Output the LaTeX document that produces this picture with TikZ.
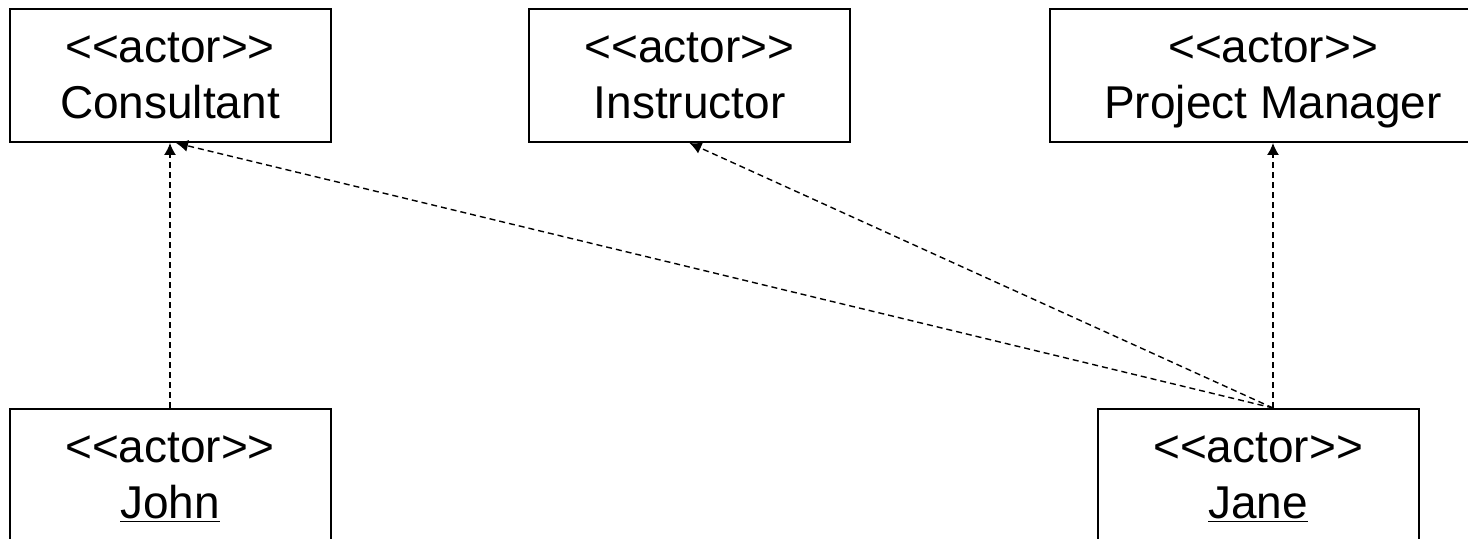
\documentclass[tikz,border=0pt]{standalone}
\usepackage{fontspec}
\setmainfont{Liberation Sans}
\usetikzlibrary{arrows.meta}

\begin{document}
\begin{tikzpicture}[line width=1pt,
		actor/.style={draw, align=center, minimum width=160.5pt, minimum height=66.5pt, text depth=-5pt, font=\fontsize{23}{28}\selectfont},
		dep/.style={line width=0.7pt, dash pattern=on 3pt off 2pt, -{Latex[length=6pt,width=6pt]}}]
	\useasboundingbox (0,0) rectangle (734pt,-269.5pt);

	\node[actor] (cons) at (85pt,-37.75pt) {<{}<actor>{}>\\Consultant};
	\node[actor] (instr) at (344.75pt,-37.75pt) {<{}<actor>{}>\\Instructor};
	\node[actor, minimum width=223pt] (pm) at (636.5pt,-37.75pt) {<{}<actor>{}>\\Project Manager};

	\node[actor] (john) at (85pt,-237.75pt) {<{}<actor>{}>\\\underline{John}};
	\node[actor] (jane) at (629pt,-237.75pt) {<{}<actor>{}>\\\underline{Jane}};

	\coordinate (janetop) at (pm.south |- jane.north);

	\draw[dep] (john.north) -- (cons.south);
	\draw[dep] (janetop) -- ([xshift=3pt]cons.south);
	\draw[dep] (janetop) -- (instr.south);
	\draw[dep] (janetop) -- (pm.south);
\end{tikzpicture}
\end{document}
